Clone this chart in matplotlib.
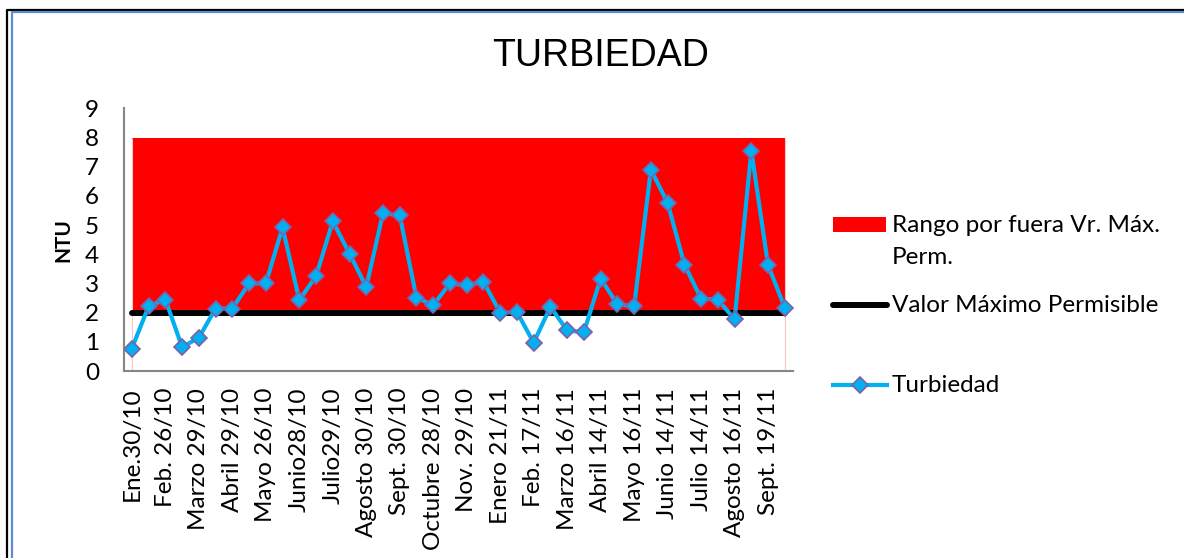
import numpy as np
import matplotlib.pyplot as plt
from matplotlib.lines import Line2D
from matplotlib.patches import Rectangle

# fechas de muestreo (solo se rotula una de cada dos)
etiquetas = ['Ene.30/10', 'Feb. 26/10', 'Marzo 29/10', 'Abril 29/10', 'Mayo 26/10',
             'Junio28/10', 'Julio29/10', 'Agosto 30/10', 'Sept. 30/10', 'Octubre 28/10',
             'Nov. 29/10', 'Enero 21/11', 'Feb. 17/11', 'Marzo 16/11', 'Abril 14/11',
             'Mayo 16/11', 'Junio 14/11', 'Julio 14/11', 'Agosto 16/11', 'Sept. 19/11']

turbiedad = [0.77, 2.22, 2.45, 0.82, 1.14, 2.14, 2.14, 3.0, 3.0, 4.92,
             2.43, 3.25, 5.13, 4.02, 2.88, 5.41, 5.33, 2.51, 2.26, 3.0,
             2.94, 3.06, 2.0, 2.02, 0.97, 2.2, 1.39, 1.33, 3.17, 2.28,
             2.22, 6.9, 5.76, 3.65, 2.48, 2.45, 1.77, 7.55, 3.62, 2.17]

valor_max = [2.0] * len(turbiedad)     # Valor Maximo Permisible
rango_sup = [8.0] * len(turbiedad)     # tope del rango por fuera

ROJO = '#FF0000'
AZUL = '#00B0F0'
BORDE_MK = '#7E60A6'
GRIS = '#868686'
FS = 17.5

W, H = 1184, 558
def fx(px):
    return px / W
def fy(py):
    return 1 - py / H

plt.rcParams['font.family'] = ['Lato', 'DejaVu Sans']

fig = plt.figure(figsize=(W / 100, H / 100), dpi=100)
ax = fig.add_axes([fx(124), fy(371), fx(792.7) - fx(124), fy(108.4) - fy(371)])

x = np.arange(len(turbiedad))

ax.fill_between(x, valor_max, rango_sup, color=ROJO, lw=0, zorder=1)
ax.vlines([x[0], x[-1]], 0, rango_sup[0], color='#FFC4C4', lw=0.8, zorder=1)
ax.plot(x, valor_max, color='black', lw=4.3, solid_capstyle='round', zorder=2)
ax.plot(x, turbiedad, color=AZUL, lw=3.0, marker='D', ms=8,
        mfc=AZUL, mec=BORDE_MK, mew=1.2, zorder=3)

ax.set_xlim(-0.47, len(turbiedad) - 1 + 0.47)
ax.set_ylim(0, 9)
ax.set_yticks(range(0, 10))
ax.set_xticks(x[::2])
ax.set_xticklabels(etiquetas, rotation=90, va='top', ha='center')
ax.tick_params(axis='both', length=0, labelsize=FS)
ax.tick_params(axis='y', pad=18)
ax.tick_params(axis='x', pad=12)

for s in ['top', 'right']:
    ax.spines[s].set_visible(False)
for s in ['left', 'bottom']:
    ax.spines[s].set_color(GRIS)
    ax.spines[s].set_linewidth(1.5)

fig.text(fx(63), fy(240), 'NTU', rotation=90, fontsize=15, fontweight='bold',
         ha='center', va='center')
fig.text(fx(601), fy(56), 'TURBIEDAD', fontsize=27, family='Liberation Sans',
         ha='center', va='center')

# leyenda
fig.add_artist(Rectangle((fx(833), fy(232)), fx(886) - fx(833), fy(217) - fy(232),
                         transform=fig.transFigure, color=ROJO, lw=0))
fig.text(fx(892), fy(225), 'Rango por fuera Vr. Máx.', fontsize=FS, va='center')
fig.text(fx(892), fy(258), 'Perm.', fontsize=FS, va='center')
fig.add_artist(Line2D([fx(833), fx(887)], [fy(305), fy(305)], transform=fig.transFigure,
                      color='black', lw=4.3, solid_capstyle='round'))
fig.text(fx(892), fy(305), 'Valor Máximo Permisible', fontsize=FS, va='center')
fig.add_artist(Line2D([fx(833), fx(887)], [fy(385), fy(385)], transform=fig.transFigure,
                      color=AZUL, lw=3.0))
fig.add_artist(Line2D([fx(860)], [fy(385)], transform=fig.transFigure, marker='D', ms=8,
                      mfc=AZUL, mec=BORDE_MK, mew=1.2, lw=0))
fig.text(fx(892), fy(385), 'Turbiedad', fontsize=FS, va='center')

# marco del grafico
fig.add_artist(Line2D([fx(7), fx(7), fx(W)], [0, fy(10), fy(10)],
                      transform=fig.transFigure, color='black', lw=1.6))
fig.add_artist(Line2D([fx(11.7), fx(11.7), fx(W)], [0, fy(12), fy(12)],
                      transform=fig.transFigure, color='#5B8BD0', lw=1.6))

fig.savefig('out.png', dpi=100)
